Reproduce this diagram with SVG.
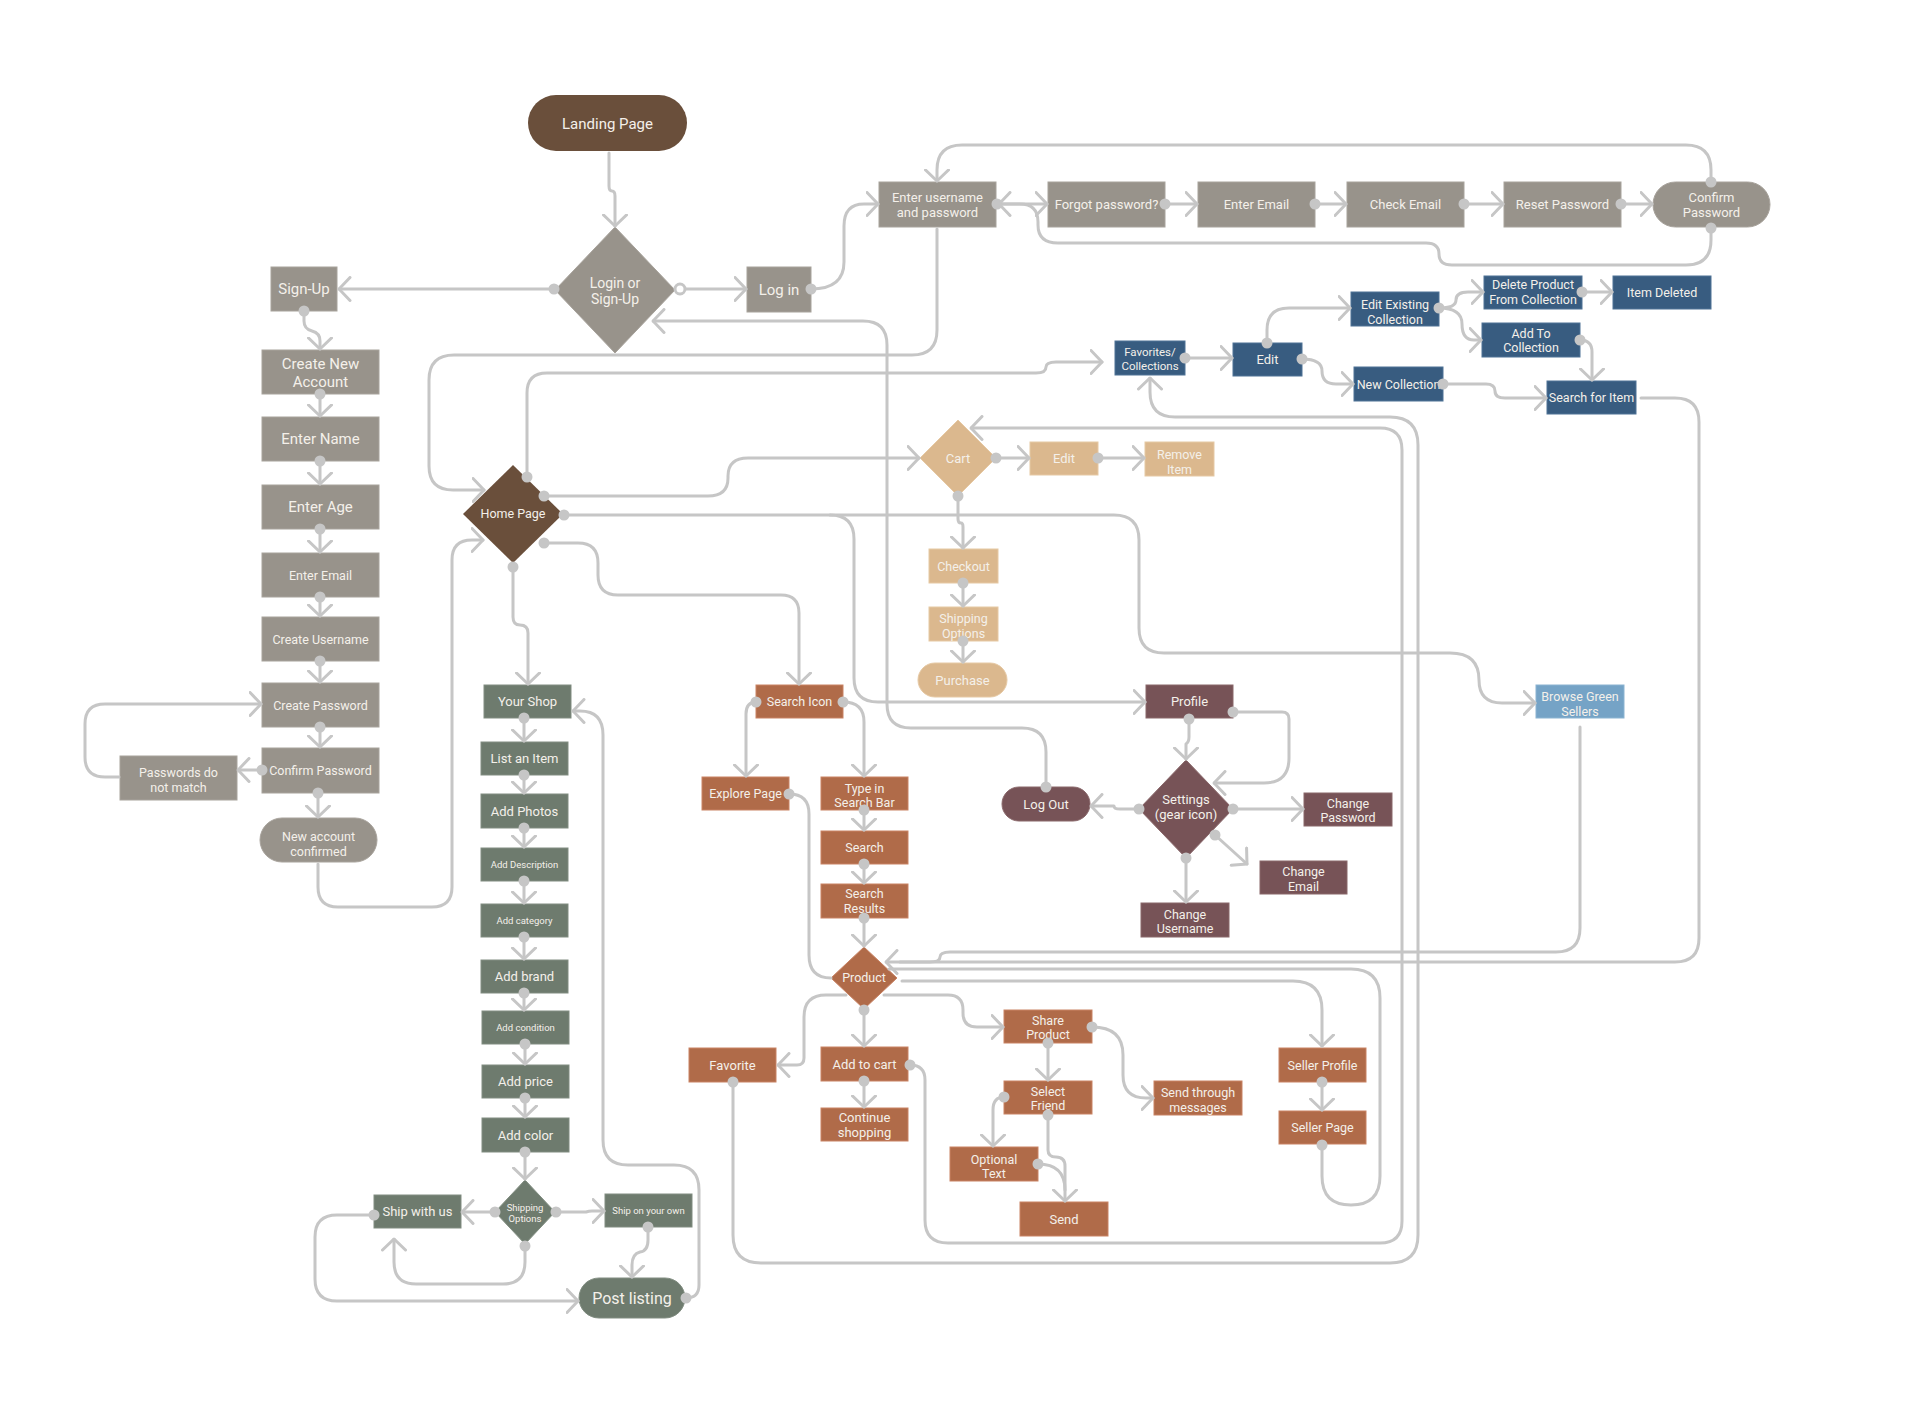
<svg xmlns="http://www.w3.org/2000/svg" width="1920" height="1412" viewBox="0 0 1920 1412">
<style>
text{font-family:Roboto,"Liberation Sans",sans-serif;fill:#f4f0ea;text-anchor:middle}
.s16{font-size:16px}.s15{font-size:15px}.s14{font-size:14px}.s13{font-size:13px}.s12{font-size:12.5px}.s11{font-size:11.5px}.s10{font-size:9.5px}
.gray{fill:#98938b;stroke:#a8a39c;stroke-width:1}
.brown{fill:#6a4f3b}
.tan{fill:#dbb88e;stroke:#e6c9a4;stroke-width:1}
.blue{fill:#385c80;stroke:#4f7396;stroke-width:1}
.lblue{fill:#75a3c6;stroke:#8cb4d2;stroke-width:1}
.terra{fill:#b06b49;stroke:#c98364;stroke-width:1}
.mauve{fill:#775357;stroke:#8a686b;stroke-width:1}
.green{fill:#6e7b6e;stroke:#818d81;stroke-width:1}
.c{fill:none;stroke:#c6c6c6;stroke-width:3;stroke-linecap:round;stroke-linejoin:round}
.a{marker-end:url(#ar)}
.d{marker-start:url(#dt)}
</style>
<defs>
<marker id="ar" viewBox="0 0 14 26" refX="12.5" refY="13" markerWidth="14" markerHeight="26" orient="auto" markerUnits="userSpaceOnUse"><path d="M1.5,1.5 L12.5,13 L1.5,24.5" fill="none" stroke="#c6c6c6" stroke-width="3" stroke-linecap="round" stroke-linejoin="round"/></marker>
<marker id="dt" viewBox="0 0 12 12" refX="6" refY="6" markerWidth="12" markerHeight="12" markerUnits="userSpaceOnUse"><circle cx="6" cy="6" r="5.5" fill="#c6c6c6"/></marker>
</defs>
<rect width="1920" height="1412" fill="#ffffff"/>

<!-- Auth nodes -->
<g id="landing-page"><rect class="brown" x="528" y="95" width="159" height="56" rx="28"/><text class="s15" x="607.5" y="128.5">Landing Page</text></g>
<g id="login-signup"><polygon class="gray" points="615,227 675,290 615,353 555,290"/><text class="s14" x="615" y="288">Login or</text><text class="s14" x="615" y="304">Sign-Up</text></g>
<g id="sign-up"><rect class="gray" x="271" y="267" width="66" height="44"/><text class="s15" x="304" y="294">Sign-Up</text></g>
<g id="log-in"><rect class="gray" x="747" y="267" width="64" height="45"/><text class="s15" x="779" y="295">Log in</text></g>
<g id="enter-username"><rect class="gray" x="879" y="182" width="117" height="45"/><text class="s13" x="937.5" y="201.5">Enter username</text><text class="s13" x="937.5" y="216.5">and password</text></g>
<g id="forgot-password"><rect class="gray" x="1048" y="182" width="117" height="45"/><text class="s13" x="1106.5" y="208.5">Forgot password?</text></g>
<g id="enter-email-reset"><rect class="gray" x="1198" y="182" width="117" height="45"/><text class="s13" x="1256.5" y="208.5">Enter Email</text></g>
<g id="check-email"><rect class="gray" x="1347" y="182" width="117" height="45"/><text class="s13" x="1405.5" y="208.5">Check Email</text></g>
<g id="reset-password"><rect class="gray" x="1504" y="182" width="117" height="45"/><text class="s13" x="1562.5" y="208.5">Reset Password</text></g>
<g id="confirm-password-reset"><rect class="gray" x="1653" y="182" width="117" height="45" rx="22.5"/><text class="s13" x="1711.5" y="201.5">Confirm</text><text class="s13" x="1711.5" y="216.5">Password</text></g>

<!-- Sign up column -->
<g id="create-new-account"><rect class="gray" x="262" y="350" width="117" height="44"/><text class="s15" x="320.5" y="369">Create New</text><text class="s15" x="320.5" y="387">Account</text></g>
<g id="enter-name"><rect class="gray" x="262" y="417" width="117" height="44"/><text class="s15" x="320.5" y="444">Enter Name</text></g>
<g id="enter-age"><rect class="gray" x="262" y="485" width="117" height="44"/><text class="s15" x="320.5" y="512">Enter Age</text></g>
<g id="enter-email"><rect class="gray" x="262" y="553" width="117" height="44"/><text class="s12" x="320.5" y="579.5">Enter Email</text></g>
<g id="create-username"><rect class="gray" x="262" y="617" width="117" height="44"/><text class="s12" x="320.5" y="643.5">Create Username</text></g>
<g id="create-password"><rect class="gray" x="262" y="683" width="117" height="44"/><text class="s12" x="320.5" y="709.5">Create Password</text></g>
<g id="confirm-password"><rect class="gray" x="262" y="748" width="117" height="45"/><text class="s12" x="320.5" y="775">Confirm Password</text></g>
<g id="passwords-no-match"><rect class="gray" x="120" y="756" width="117" height="44"/><text class="s12" x="178.5" y="776.5">Passwords do</text><text class="s12" x="178.5" y="791.5">not match</text></g>
<g id="new-account-confirmed"><rect class="gray" x="260" y="818" width="117" height="44" rx="22"/><text class="s12" x="318.5" y="840.5">New account</text><text class="s12" x="318.5" y="855.5">confirmed</text></g>

<g id="home-page"><polygon class="brown" points="513,465 563,514 513,563 463,514"/><text class="s12" x="513" y="518">Home Page</text></g>

<!-- Collections -->
<g id="favorites-collections"><rect class="blue" x="1115" y="341" width="70" height="34"/><text class="s11" x="1150" y="356">Favorites/</text><text class="s11" x="1150" y="370">Collections</text></g>
<g id="edit-collections"><rect class="blue" x="1233" y="343" width="69" height="33"/><text class="s13" x="1267.5" y="364">Edit</text></g>
<g id="edit-existing"><rect class="blue" x="1351" y="292" width="88" height="34"/><text class="s12" x="1395" y="308.5">Edit Existing</text><text class="s12" x="1395" y="323.5">Collection</text></g>
<g id="delete-product"><rect class="blue" x="1484" y="276" width="98" height="33"/><text class="s12" x="1533" y="288.5">Delete Product</text><text class="s12" x="1533" y="303.5">From Collection</text></g>
<g id="item-deleted"><rect class="blue" x="1613" y="276" width="98" height="33"/><text class="s12" x="1662" y="297">Item Deleted</text></g>
<g id="add-to-collection"><rect class="blue" x="1482" y="323" width="98" height="34"/><text class="s12" x="1531" y="337.5">Add To</text><text class="s12" x="1531" y="351.5">Collection</text></g>
<g id="new-collection"><rect class="blue" x="1354" y="367" width="89" height="34"/><text class="s12" x="1398.5" y="388.5">New Collection</text></g>
<g id="search-for-item"><rect class="blue" x="1547" y="381" width="89" height="33"/><text class="s12" x="1591.5" y="402">Search for Item</text></g>
<g id="browse-green-sellers"><rect class="lblue" x="1536" y="685" width="88" height="33"/><text class="s12" x="1580" y="700.5">Browse Green</text><text class="s12" x="1580" y="715.5">Sellers</text></g>

<!-- Cart -->
<g id="cart"><polygon class="tan" points="958,420 996,458 958,496 920,458"/><text class="s13" x="958" y="462.5">Cart</text></g>
<g id="cart-edit"><rect class="tan" x="1030" y="442" width="68" height="33"/><text class="s13" x="1064" y="463">Edit</text></g>
<g id="remove-item"><rect class="tan" x="1145" y="442" width="69" height="34"/><text class="s12" x="1179.5" y="458.5">Remove</text><text class="s12" x="1179.5" y="473.5">Item</text></g>
<g id="checkout"><rect class="tan" x="929" y="549" width="69" height="34"/><text class="s12" x="963.5" y="570.5">Checkout</text></g>
<g id="shipping-options-cart"><rect class="tan" x="929" y="607" width="69" height="34"/><text class="s12" x="963.5" y="622.5">Shipping</text><text class="s12" x="963.5" y="637.5">Options</text></g>
<g id="purchase"><rect class="tan" x="918" y="663" width="89" height="34" rx="17"/><text class="s13" x="962.5" y="684.5">Purchase</text></g>

<!-- Search / product -->
<g id="search-icon"><rect class="terra" x="756" y="685" width="87" height="33"/><text class="s12" x="799.5" y="706">Search Icon</text></g>
<g id="explore-page"><rect class="terra" x="702" y="777" width="87" height="33"/><text class="s12" x="745.5" y="798">Explore Page</text></g>
<g id="type-search-bar"><rect class="terra" x="821" y="777" width="87" height="33"/><text class="s12" x="864.5" y="792.5">Type in</text><text class="s12" x="864.5" y="806.5">Search Bar</text></g>
<g id="search"><rect class="terra" x="821" y="831" width="87" height="33"/><text class="s12" x="864.5" y="852">Search</text></g>
<g id="search-results"><rect class="terra" x="821" y="884" width="87" height="34"/><text class="s12" x="864.5" y="897.5">Search</text><text class="s12" x="864.5" y="912.5">Results</text></g>
<g id="product"><polygon class="terra" points="864,947 897,978 864,1009 831,978"/><text class="s12" x="864" y="982">Product</text></g>
<g id="favorite"><rect class="terra" x="689" y="1048" width="87" height="34"/><text class="s13" x="732.5" y="1069.5">Favorite</text></g>
<g id="add-to-cart"><rect class="terra" x="821" y="1047" width="87" height="34"/><text class="s13" x="864.5" y="1068.5">Add to cart</text></g>
<g id="continue-shopping"><rect class="terra" x="821" y="1108" width="87" height="33"/><text class="s13" x="864.5" y="1121.5">Continue</text><text class="s13" x="864.5" y="1136.5">shopping</text></g>
<g id="share-product"><rect class="terra" x="1004" y="1010" width="88" height="33"/><text class="s12" x="1048" y="1024.5">Share</text><text class="s12" x="1048" y="1038.5">Product</text></g>
<g id="select-friend"><rect class="terra" x="1004" y="1081" width="88" height="33"/><text class="s12" x="1048" y="1095.5">Select</text><text class="s12" x="1048" y="1109.5">Friend</text></g>
<g id="optional-text"><rect class="terra" x="950" y="1147" width="88" height="34"/><text class="s12" x="994" y="1163.5">Optional</text><text class="s12" x="994" y="1177.5">Text</text></g>
<g id="send"><rect class="terra" x="1020" y="1202" width="88" height="34"/><text class="s13" x="1064" y="1223.5">Send</text></g>
<g id="send-through-messages"><rect class="terra" x="1154" y="1081" width="88" height="34"/><text class="s12" x="1198" y="1096.5">Send through</text><text class="s12" x="1198" y="1111.5">messages</text></g>
<g id="seller-profile"><rect class="terra" x="1279" y="1048" width="87" height="34"/><text class="s12" x="1322.5" y="1069.5">Seller Profile</text></g>
<g id="seller-page"><rect class="terra" x="1279" y="1111" width="87" height="33"/><text class="s12" x="1322.5" y="1132">Seller Page</text></g>

<!-- Profile -->
<g id="profile"><rect class="mauve" x="1146" y="685" width="87" height="33"/><text class="s13" x="1189.5" y="706">Profile</text></g>
<g id="settings"><polygon class="mauve" points="1186,760 1233,809 1186,858 1139,809"/><text class="s13" x="1186" y="803.5">Settings</text><text class="s13" x="1186" y="818.5">(gear icon)</text></g>
<g id="log-out"><rect class="mauve" x="1002" y="787" width="88" height="34" rx="17"/><text class="s13" x="1046" y="808.5">Log Out</text></g>
<g id="change-password"><rect class="mauve" x="1304" y="793" width="88" height="33"/><text class="s12" x="1348" y="807.5">Change</text><text class="s12" x="1348" y="821.5">Password</text></g>
<g id="change-email"><rect class="mauve" x="1260" y="861" width="87" height="33"/><text class="s12" x="1303.5" y="875.5">Change</text><text class="s12" x="1303.5" y="890.5">Email</text></g>
<g id="change-username"><rect class="mauve" x="1141" y="903" width="88" height="34"/><text class="s12" x="1185" y="918.5">Change</text><text class="s12" x="1185" y="932.5">Username</text></g>

<!-- Shop -->
<g id="your-shop"><rect class="green" x="484" y="685" width="87" height="33"/><text class="s13" x="527.5" y="706">Your Shop</text></g>
<g id="list-an-item"><rect class="green" x="481" y="742" width="87" height="33"/><text class="s13" x="524.5" y="763">List an Item</text></g>
<g id="add-photos"><rect class="green" x="481" y="794" width="87" height="34"/><text class="s13" x="524.5" y="815.5">Add Photos</text></g>
<g id="add-description"><rect class="green" x="481" y="848" width="87" height="33"/><text class="s10" x="524.5" y="868">Add Description</text></g>
<g id="add-category"><rect class="green" x="481" y="904" width="87" height="33"/><text class="s10" x="524.5" y="924">Add category</text></g>
<g id="add-brand"><rect class="green" x="481" y="960" width="87" height="33"/><text class="s13" x="524.5" y="981">Add brand</text></g>
<g id="add-condition"><rect class="green" x="482" y="1011" width="87" height="33"/><text class="s10" x="525.5" y="1031">Add condition</text></g>
<g id="add-price"><rect class="green" x="482" y="1065" width="87" height="33"/><text class="s13" x="525.5" y="1086">Add price</text></g>
<g id="add-color"><rect class="green" x="482" y="1118" width="87" height="34"/><text class="s13" x="525.5" y="1139.5">Add color</text></g>
<g id="shipping-options-shop"><polygon class="green" points="525,1180 555,1212 525,1244 495,1212"/><text class="s10" x="525" y="1210.5">Shipping</text><text class="s10" x="525" y="1221.5">Options</text></g>
<g id="ship-with-us"><rect class="green" x="374" y="1195" width="87" height="33"/><text class="s13" x="417.5" y="1216">Ship with us</text></g>
<g id="ship-on-your-own"><rect class="green" x="605" y="1194" width="87" height="33"/><text class="s10" x="648.5" y="1214">Ship on your own</text></g>
<g id="post-listing"><rect class="green" x="579" y="1278" width="106" height="40" rx="20"/><text class="s16" x="632" y="1303.5">Post listing</text></g>

<g id="connectors">
<path class="c a" d="M609,153 V186 Q609,191 612,191 Q615,191 615,196 V226"/>
<path class="c a d" d="M554,289 H339"/>
<path class="c a" d="M680,289 H746"/>
<circle cx="680" cy="289" r="5" fill="#ffffff" stroke="#c6c6c6" stroke-width="3"/>
<path class="c a d" d="M811,289 Q844,289 844,262 V226 Q844,204 864,204 H878"/>
<path class="c a d" d="M304,311 V321 Q304,329 312,331 Q320,333 320,341 V349"/>
<path class="c a d" d="M320,394 V416"/>
<path class="c a d" d="M320,461 V484"/>
<path class="c a d" d="M320,529 V552"/>
<path class="c a d" d="M320,597 V616"/>
<path class="c a d" d="M320,661 V682"/>
<path class="c a d" d="M320,727 V747"/>
<path class="c a d" d="M318,793 V817"/>
<path class="c a d" d="M262,770 H238"/>
<path class="c a" d="M119,777 H105 Q85,777 85,757 V724 Q85,704 105,704 H261"/>
<path class="c a" d="M318,864 V887 Q318,907 338,907 H432 Q452,907 452,887 V560 Q452,540 472,540 H483"/>
<path class="c a" d="M937,229 V330 Q937,355 912,355 H454 Q429,355 429,380 V466 Q429,490 453,490 H484"/>
<path class="c a d" d="M527,477 V393 Q527,373 547,373 H1036 Q1046,373 1046,367 Q1046,362 1056,362 H1102"/>
<path class="c a d" d="M544,496 H708 Q728,496 728,478 V476 Q728,458 748,458 H919"/>
<path class="c a d" d="M564,515 H1114 Q1139,515 1139,540 V628 Q1139,653 1164,653 H1450 Q1479,653 1479,680 Q1479,703 1502,703 H1535"/>
<path class="c a" d="M830,515 Q854,515 854,539 V678 Q854,702 878,702 H1145"/>
<path class="c a d" d="M1046,787 V752 Q1046,728 1022,728 H911 Q887,728 887,704 V345 Q887,321 863,321 H653"/>
<path class="c a d" d="M997,204 H1047"/>
<path class="c a d" d="M1711,182 V170 Q1711,145 1686,145 H962 Q937,145 937,170 V181"/>
<path class="c a d" d="M1711,228 V240 Q1711,265 1686,265 H1452 Q1439,265 1439,254 Q1439,243 1426,243 H1058 Q1038,243 1038,225 V222 Q1038,204 1020,204 H999"/>
<path class="c a d" d="M1165,204 H1197"/>
<path class="c a d" d="M1315,204 H1346"/>
<path class="c a d" d="M1464,204 H1503"/>
<path class="c a d" d="M1621,204 H1652"/>
<path class="c a d" d="M1185,358 H1232"/>
<path class="c a d" d="M1267,343 V330 Q1267,308 1289,308 H1350"/>
<path class="c a d" d="M1302,359 Q1322,359 1322,371 Q1322,384 1336,384 H1353"/>
<path class="c a d" d="M1439,308 Q1456,308 1456,300 Q1456,292 1468,292 H1483"/>
<path class="c a" d="M1439,308 Q1462,308 1462,324 Q1462,340 1474,340 H1481"/>
<path class="c a d" d="M1582,292 H1612"/>
<path class="c a d" d="M1580,340 Q1592,340 1592,352 V380"/>
<path class="c a d" d="M1443,384 H1486 Q1495,384 1495,391 Q1495,398 1505,398 H1546"/>
<path class="c a" d="M1641,398 H1675 Q1699,398 1699,422 V938 Q1699,962 1675,962 H886"/>
<path class="c" d="M1580,727 V928 Q1580,952 1556,952 H950 Q940,952 940,957 Q940,962 930,962 H900"/>
<path class="c d" d="M1322,1145 V1176 Q1322,1205 1351,1205 Q1380,1205 1380,1176 V998 Q1380,969 1351,969 H889"/>
<path class="c a" d="M902,981 H1293 Q1322,981 1322,1010 V1046"/>
<path class="c a d" d="M1322,1082 V1110"/>
<path class="c a d" d="M910,1065 Q925,1065 925,1080 V1220 Q925,1243 948,1243 H1380 Q1402,1243 1402,1221 V450 Q1402,428 1380,428 H971"/>
<path class="c a d" d="M733,1082 V1235 Q733,1263 761,1263 H1390 Q1418,1263 1418,1235 V445 Q1418,417 1390,417 H1175 Q1150,417 1150,392 V378"/>
<path class="c a d" d="M864,1010 V1046"/>
<path class="c a d" d="M864,1081 V1107"/>
<path class="c a" d="M846,995 H826 Q804,995 804,1017 V1058 Q804,1065 797,1065 H778"/>
<path class="c a" d="M884,995 H948 Q963,995 963,1010 V1013 Q963,1027 977,1027 H1003"/>
<path class="c a d" d="M1048,1043 V1080"/>
<path class="c a d" d="M1092,1027 Q1123,1027 1123,1055 V1075 Q1123,1098 1146,1098 H1153"/>
<path class="c a d" d="M1004,1097 Q993,1097 993,1110 V1146"/>
<path class="c a d" d="M1048,1115 V1150 Q1048,1157 1056,1157 Q1065,1157 1065,1166 V1201"/>
<path class="c d" d="M1038,1164 Q1065,1164 1065,1190"/>
<path class="c a d" d="M513,567 V617 Q513,625 520,625 Q528,625 528,633 V684"/>
<path class="c a d" d="M544,543 H578 Q598,543 598,563 V575 Q598,595 618,595 H781 Q799,595 799,613 V684"/>
<path class="c a d" d="M756,702 Q746,702 746,714 V776"/>
<path class="c a d" d="M843,702 Q864,702 864,722 V776"/>
<path class="c a d" d="M864,810 V830"/>
<path class="c a d" d="M864,864 V883"/>
<path class="c a d" d="M864,918 V946"/>
<path class="c d" d="M789,794 Q809,794 809,814 V955 Q809,978 831,978"/>
<path class="c a d" d="M996,458 H1029"/>
<path class="c a d" d="M1098,458 H1144"/>
<path class="c a d" d="M958,496 V519 Q958,523 961,523 Q963,523 963,527 V548"/>
<path class="c a d" d="M963,583 V606"/>
<path class="c a d" d="M963,641 V662"/>
<path class="c a d" d="M1189,719 V737 Q1189,742 1186,744 V759"/>
<path class="c a d" d="M1233,712 H1282 Q1289,712 1289,719 V758 Q1289,783 1264,783 H1214"/>
<path class="c a d" d="M1139,809 H1120 Q1114,809 1114,806 H1091"/>
<path class="c a d" d="M1233,809 H1303"/>
<path class="c a d" d="M1215,835 L1247,864"/>
<path class="c a d" d="M1186,858 V902"/>
<path class="c a d" d="M524,718 V741"/>
<path class="c a d" d="M524,775 V793"/>
<path class="c a d" d="M524,828 V847"/>
<path class="c a d" d="M524,881 V903"/>
<path class="c a d" d="M524,937 V959"/>
<path class="c a d" d="M524,993 V1010"/>
<path class="c a d" d="M525,1044 V1064"/>
<path class="c a d" d="M525,1098 V1117"/>
<path class="c a d" d="M525,1152 V1179"/>
<path class="c a d" d="M495,1212 H462"/>
<path class="c a d" d="M556,1212 H586 Q589,1211 592,1211 H604"/>
<path class="c a d" d="M648,1227 V1240 Q648,1251 640,1252 Q632,1254 632,1265 V1277"/>
<path class="c a d" d="M525,1246 V1262 Q525,1284 503,1284 H416 Q394,1284 394,1262 V1239"/>
<path class="c a d" d="M374,1215 H337 Q315,1215 315,1237 V1279 Q315,1301 337,1301 H578"/>
<path class="c a d" d="M686,1298 Q699,1298 699,1285 V1190 Q699,1165 674,1165 H628 Q603,1165 603,1140 V735 Q603,711 580,711 H573"/>
</g>
</svg>
